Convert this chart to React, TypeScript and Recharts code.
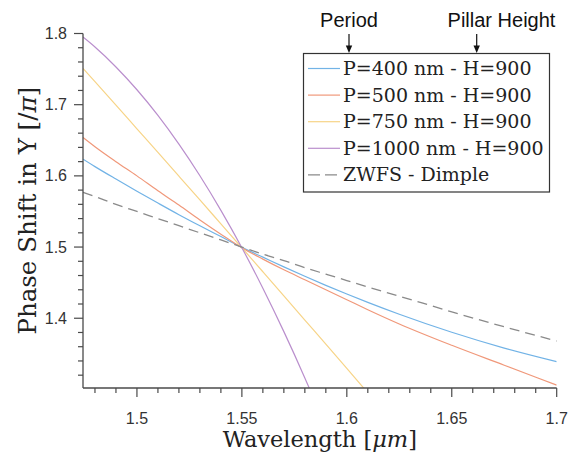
import React from 'react';
import { LineChart, Line, XAxis, YAxis, Legend } from 'recharts';

// Wavelength samples [µm]
const wavelength = [1.4743, 1.48, 1.49, 1.5, 1.51, 1.52, 1.53, 1.54, 1.55, 1.56, 1.57, 1.58, 1.59, 1.6, 1.61, 1.625, 1.65, 1.675, 1.7];

// Phase shift [/pi] per series (null = outside of the drawn range)
const p400 = [1.6235, 1.613, 1.5955, 1.5784, 1.5618, 1.5455, 1.5299, 1.5147, 1.4995, 1.4858, 1.4721, 1.4589, 1.4462, 1.434, 1.4223, 1.4056, 1.3803, 1.3581, 1.339];
const p500 = [1.654, 1.641, 1.62, 1.6, 1.579, 1.559, 1.538, 1.518, 1.499, 1.483, 1.468, 1.454, 1.44, 1.426, 1.412, 1.392, 1.362, 1.334, 1.306];
const p750 = [1.751, 1.7323, 1.6993, 1.6661, 1.6329, 1.5996, 1.5662, 1.5326, 1.499, 1.4653, 1.4315, 1.3975, 1.3636, 1.3295, 1.2952, null, null, null, null];
const p1000 = [1.795, 1.781, 1.753, 1.721, 1.685, 1.6446, 1.6002, 1.5516, 1.499, 1.4422, 1.3812, 1.3162, 1.2469, null, null, null, null, null, null];
const dimple = [1.577, 1.571, 1.56, 1.55, 1.54, 1.53, 1.52, 1.51, 1.5, 1.49, 1.481, 1.471, 1.462, 1.453, 1.444, 1.431, 1.409, 1.388, 1.368];

const seriesNames = ['P=400 nm - H=900', 'P=500 nm - H=900', 'P=750 nm - H=900', 'P=1000 nm - H=900', 'ZWFS - Dimple'];
const seriesKeys = ['p400', 'p500', 'p750', 'p1000', 'dimple'];
const seriesColors = ['#72b3e6', '#f0987a', '#f7d487', '#ba8fcd', '#8a8a8a'];

const xMajorTicks = [1.5, 1.55, 1.6, 1.65, 1.7];
const xMinorTicks = [1.48, 1.49, 1.51, 1.52, 1.53, 1.54, 1.56, 1.57, 1.58, 1.59, 1.61, 1.62, 1.63, 1.64, 1.66, 1.67, 1.68, 1.69];
const yMajorTicks = [1.4, 1.5, 1.6, 1.7, 1.8];
const yMinorTicks = [1.32, 1.34, 1.36, 1.38, 1.42, 1.44, 1.46, 1.48, 1.52, 1.54, 1.56, 1.58, 1.62, 1.64, 1.66, 1.68, 1.72, 1.74, 1.76, 1.78];

const annotations = [
  { label: 'Period', textX: 349, arrowX: 349 },
  { label: 'Pillar Height', textX: 501.5, arrowX: 476.7 },
];

const data = wavelength.map((w, i) => ({
  w,
  p400: p400[i],
  p500: p500[i],
  p750: p750[i],
  p1000: p1000[i],
  dimple: dimple[i],
}));

const AXIS = '#4a4a4a';
const TICK_TEXT = '#333';
const SERIF = '"DejaVu Serif", serif';
const SANS = '"Liberation Sans", Arial, sans-serif';

const isIn = (arr: number[], v: number) => arr.some((t) => Math.abs(t - v) < 1e-6);
const fmt = (v: number) => String(Number(v.toFixed(2)));

const XTick = (props: any) => {
  const { x, y, payload } = props;
  const major = isIn(xMajorTicks, payload.value);
  return (
    <g>
      <line x1={x} x2={x} y1={y} y2={y + (major ? 9 : 5)} stroke={AXIS} strokeWidth={1.2} />
      {major && (
        <text x={x} y={y + 30} dy="0.35em" textAnchor="middle" fontFamily={SANS} fontSize={16} fill={TICK_TEXT}>
          {fmt(payload.value)}
        </text>
      )}
    </g>
  );
};

const YTick = (props: any) => {
  const { x, y, payload } = props;
  const major = isIn(yMajorTicks, payload.value);
  return (
    <g>
      <line x1={x - (major ? 9 : 5)} x2={x} y1={y} y2={y} stroke={AXIS} strokeWidth={1.2} />
      {major && (
        <text x={x - 16} y={y} dy="0.35em" textAnchor="end" fontFamily={SANS} fontSize={16} fill={TICK_TEXT}>
          {fmt(payload.value)}
        </text>
      )}
    </g>
  );
};

const XLabel = (props: any) => {
  const vb = props.viewBox || { x: 83, y: 388, width: 474, height: 67 };
  return (
    <text x={vb.x + vb.width / 2} y={vb.y + 59} textAnchor="middle" fontFamily={SERIF} fontSize={22.5} fill="#222">
      Wavelength [<tspan fontStyle="italic">μm</tspan>]
    </text>
  );
};

const YLabel = (props: any) => {
  const vb = props.viewBox || { x: 0, y: 33.5, width: 83, height: 354.5 };
  const cx = 27;
  const cy = vb.y + vb.height / 2;
  return (
    <text
      x={cx}
      y={cy}
      dy="0.35em"
      transform={`rotate(-90, ${cx}, ${cy})`}
      textAnchor="middle"
      fontFamily={SERIF}
      fontSize={24.5}
      fill="#222"
    >
      Phase Shift in Y [/<tspan fontStyle="italic">π</tspan>]
    </text>
  );
};

const LegendBox = () => {
  const boxX = 303.5;
  const boxY = 53.5;
  const rowStart = 75;
  const rowStep = 26.6;
  return (
    <svg width={568} height={200} style={{ display: 'block' }}>
      {annotations.map((a) => (
        <g key={a.label}>
          <text x={a.textX} y={26.5} textAnchor="middle" fontFamily={SANS} fontSize={20} fill="#111">
            {a.label}
          </text>
          <line x1={a.arrowX} x2={a.arrowX} y1={34} y2={47} stroke="#111" strokeWidth={1.2} />
          <path d={`M${a.arrowX - 3.2},${45.5} L${a.arrowX + 3.2},${45.5} L${a.arrowX},${53} Z`} fill="#111" />
        </g>
      ))}
      <rect x={boxX} y={boxY} width={246} height={138.5} fill="#fff" stroke="#333" strokeWidth={1.2} />
      {seriesNames.map((name, i) => {
        const base = rowStart + i * rowStep;
        const ly = base - 6.5;
        return (
          <g key={name}>
            <line
              x1={308}
              x2={340}
              y1={ly}
              y2={ly}
              stroke={seriesColors[i]}
              strokeWidth={1.2}
              strokeDasharray={seriesKeys[i] === 'dimple' ? '12 5' : undefined}
            />
            <text x={343} y={base} fontFamily={SERIF} fontSize={19} fill="#222">
              {name}
            </text>
          </g>
        );
      })}
    </svg>
  );
};

export default function App() {
  return (
    <div style={{ position: 'absolute', left: 0, top: 0, width: 568, height: 455, background: '#fff' }}>
      <LineChart width={568} height={455} data={data} margin={{ top: 33.5, right: 11.3, bottom: 0, left: 0 }}>
        <XAxis
          dataKey="w"
          type="number"
          domain={[1.4743, 1.7]}
          allowDataOverflow
          ticks={[...xMinorTicks, ...xMajorTicks].sort((a, b) => a - b)}
          interval={0}
          tick={<XTick />}
          tickLine={false}
          tickSize={0}
          tickMargin={0}
          height={67}
          axisLine={{ stroke: AXIS, strokeWidth: 1.3 }}
          label={<XLabel />}
        />
        <YAxis
          type="number"
          domain={[1.302, 1.8]}
          allowDataOverflow
          ticks={[...yMinorTicks, ...yMajorTicks].sort((a, b) => a - b)}
          interval={0}
          tick={<YTick />}
          tickLine={false}
          tickSize={0}
          tickMargin={0}
          width={83}
          axisLine={{ stroke: AXIS, strokeWidth: 1.3 }}
          label={<YLabel />}
        />
        {seriesKeys.map((k, i) => (
          <Line
            key={k}
            dataKey={k}
            name={seriesNames[i]}
            type="monotone"
            stroke={seriesColors[i]}
            strokeWidth={k === 'dimple' ? 1.3 : 1.2}
            strokeDasharray={k === 'dimple' ? '10 6' : undefined}
            dot={false}
            activeDot={false}
            isAnimationActive={false}
            connectNulls={false}
          />
        ))}
        <Legend
          layout="horizontal"
          verticalAlign="middle"
          align="center"
          width={568}
          wrapperStyle={{ left: 0, top: 0, width: 568, height: 200, pointerEvents: 'none' }}
          content={() => <LegendBox />}
        />
      </LineChart>
    </div>
  );
}
